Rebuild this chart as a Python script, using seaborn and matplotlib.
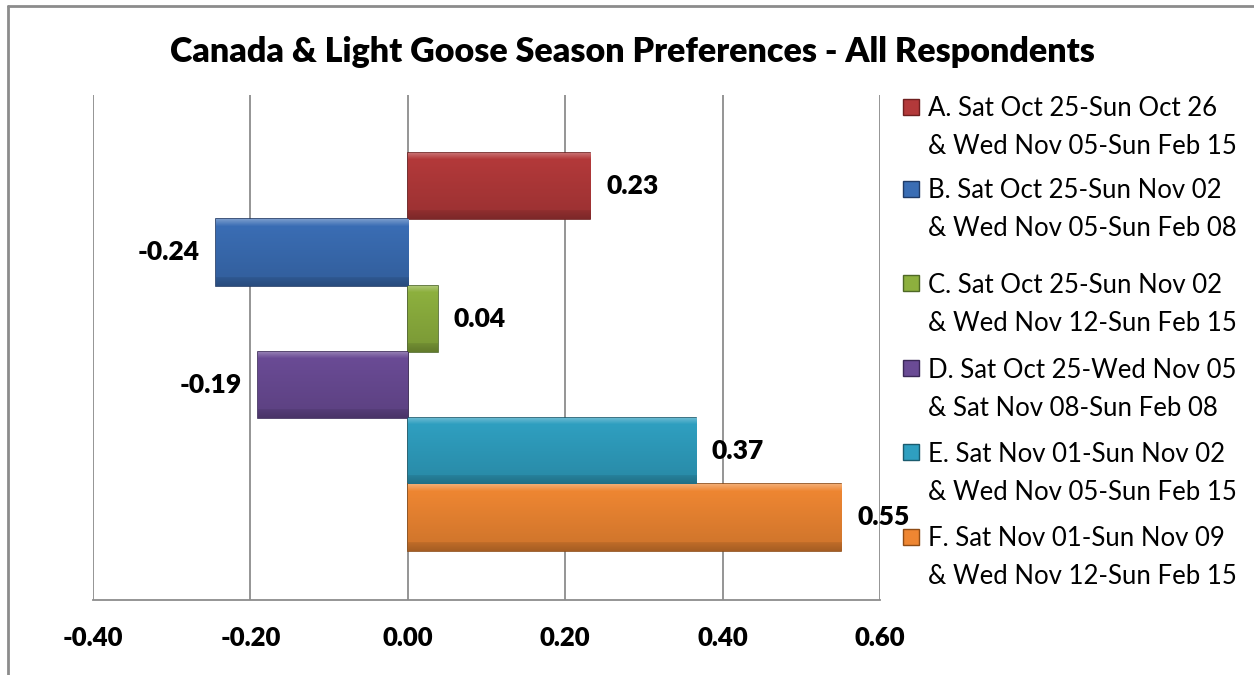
import matplotlib
matplotlib.use("Agg")
import matplotlib.pyplot as plt
import seaborn as sns
import pandas as pd
import numpy as np
from matplotlib.colors import to_rgb
from matplotlib.patches import Rectangle
from matplotlib.lines import Line2D

# ---- data ----
options = [
    "A. Sat Oct 25-Sun Oct 26\n& Wed Nov 05-Sun Feb 15",
    "B. Sat Oct 25-Sun Nov 02\n& Wed Nov 05-Sun Feb 08",
    "C. Sat Oct 25-Sun Nov 02\n& Wed Nov 12-Sun Feb 15",
    "D. Sat Oct 25-Wed Nov 05\n& Sat Nov 08-Sun Feb 08",
    "E. Sat Nov 01-Sun Nov 02\n& Wed Nov 05-Sun Feb 15",
    "F. Sat Nov 01-Sun Nov 09\n& Wed Nov 12-Sun Feb 15",
]
scores = [0.232, -0.244, 0.038, -0.190, 0.366, 0.551]
x_ticks = [-0.40, -0.20, 0.00, 0.20, 0.40, 0.60]
title = "Canada & Light Goose Season Preferences - All Respondents"

colors = ["#B3393A", "#3A6DB4", "#8DB03E", "#6A4B95", "#2F9FC0", "#EE8632"]
edges = ["#6E1F1F", "#1F3A66", "#4E6826", "#3A2857", "#1A5B6E", "#8E4C15"]

sns.set_theme(style="white")
plt.rcParams["font.family"] = ["Lato", "DejaVu Sans"]
plt.rcParams["text.color"] = "black"
plt.rcParams["xtick.color"] = "black"
BOLD = "heavy"

W, H = 1254, 675
fig = plt.figure(figsize=(W / 100, H / 100), dpi=100)
ax = fig.add_axes([93 / W, 1 - 600 / H, (880 - 93) / W, (600 - 95) / H])

df = pd.DataFrame({"option": options, "score": scores})
sns.barplot(data=df, y="option", x="score", hue="option", palette=colors,
            orient="h", width=1.0, legend=False, ax=ax, saturation=1)


def gradient(c, n=60):
    base = np.array(to_rgb(c))
    rows = []
    for t in np.linspace(0, 1, n):
        if t < 0.10:
            col = base + (1 - base) * 0.30 * (1 - t / 0.10)
        elif t > 0.88:
            col = base * (0.80 - 0.1 * (t - 0.88) / 0.12)
        else:
            col = base * (1.0 - 0.12 * (t - 0.10) / 0.78)
        rows.append(np.clip(col, 0, 1))
    return np.array(rows)[:, None, :]


for cont, c, ec in zip(ax.containers, colors, edges):
    for p in cont:
        p.set_edgecolor(ec)
        p.set_linewidth(1.2)
        p.set_zorder(3)
        x0, y0, w, h = p.get_x(), p.get_y(), p.get_width(), p.get_height()
        xl, xr = min(x0, x0 + w), max(x0, x0 + w)
        im = ax.imshow(gradient(c), extent=[xl, xr, y0 + h, y0],
                       origin="upper", aspect="auto", zorder=3.5,
                       interpolation="bilinear")
        im.set_clip_path(p)

ax.set_xlim(x_ticks[0], x_ticks[-1])
ax.set_ylim(6.246, -1.375)
ax.set_aspect("auto")

for cont in ax.containers:
    ax.bar_label(cont, fmt="%.2f", padding=11.5, fontsize=19, fontweight=BOLD,
                 color="black", zorder=5)

ax.set_xticks(x_ticks)
ax.set_xticklabels([f"{t:.2f}" for t in x_ticks], fontsize=18.5, fontweight=BOLD,
                   color="black")
ax.tick_params(axis="x", length=0, pad=19)
ax.set_yticks([])
ax.set_xlabel("")
ax.set_ylabel("")
ax.grid(axis="x", color="#8C8C8C", linewidth=1.3, zorder=0)
ax.set_axisbelow(True)
for s in ["top", "right", "left"]:
    ax.spines[s].set_visible(False)
ax.spines["bottom"].set_color("#8C8C8C")
ax.spines["bottom"].set_linewidth(1.3)

fig.text(632 / W, 1 - 52 / H, title, ha="center", va="center",
         fontsize=24.5, fontweight=BOLD, color="black")

# legend drawn by hand to keep markers on the first line
legend_rows = [109, 191, 285, 370, 454, 539]
for y, lab, c, ec in zip(legend_rows, options, colors, edges):
    l1, l2 = lab.split("\n")
    fig.add_artist(Rectangle((903 / W, 1 - (y + 6) / H), 16 / W, 16 / H,
                             transform=fig.transFigure, facecolor=c,
                             edgecolor=ec, linewidth=1))
    fig.text(928 / W, 1 - y / H, l1, ha="left", va="center", fontsize=18.5,
             color="black")
    fig.text(928 / W, 1 - (y + 38) / H, l2, ha="left", va="center", fontsize=18.5,
             color="black")

# outer chart border (left and top edges visible)
fig.add_artist(Line2D([8 / W, 8 / W], [0, 1 - 6 / H], transform=fig.transFigure,
                      color="#8C8C8C", linewidth=2))
fig.add_artist(Line2D([8 / W, 1], [1 - 6 / H, 1 - 6 / H], transform=fig.transFigure,
                      color="#8C8C8C", linewidth=2))

fig.savefig("out.png", dpi=100, facecolor="white")
